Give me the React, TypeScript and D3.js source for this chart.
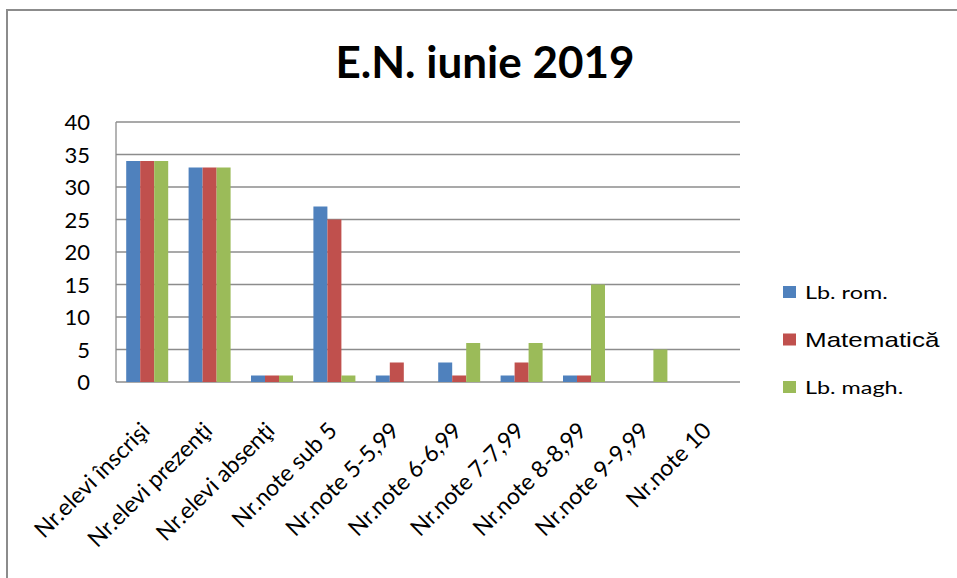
import * as d3 from "d3";
import { useEffect, useRef } from "react";

const categories = [
  "Nr.elevi înscrişi",
  "Nr.elevi prezenţi",
  "Nr.elevi absenţi",
  "Nr.note sub 5",
  "Nr.note 5-5,99",
  "Nr.note 6-6,99",
  "Nr.note 7-7,99",
  "Nr.note 8-8,99",
  "Nr.note 9-9,99",
  "Nr.note 10",
];
const seriesNames = ["Lb. rom.", "Matematică", "Lb. magh."];
const lbRom = [34, 33, 1, 27, 1, 3, 1, 1, 0, 0];
const matematica = [34, 33, 1, 25, 3, 1, 3, 1, 0, 0];
const lbMagh = [34, 33, 1, 1, 0, 6, 6, 15, 5, 0];
const yTicks = [0, 5, 10, 15, 20, 25, 30, 35, 40];
const colors = ["#4f81bd", "#c0504d", "#9bbb59"];

const W = 957;
const H = 578;
const FONT = "Lato, 'Open Sans', sans-serif";

export default function App() {
  const svgRef = useRef<SVGSVGElement | null>(null);

  useEffect(() => {
    if (!svgRef.current) return;
    const svg = d3.select(svgRef.current);
    svg.selectAll("*").remove();

    const values = [lbRom, matematica, lbMagh];
    const plot = { left: 116, right: 740, top: 122, bottom: 382 };

    // outer chart border
    svg
      .append("rect")
      .attr("x", 7)
      .attr("y", 10)
      .attr("width", W + 20)
      .attr("height", H + 20)
      .attr("fill", "white")
      .attr("stroke", "#8c8c8c")
      .attr("stroke-width", 2);

    const x = d3
      .scaleBand<string>()
      .domain(categories)
      .range([plot.left, plot.right]);

    const groupW = x.bandwidth() * 0.673;
    const xs = d3.scaleBand<string>().domain(seriesNames).range([0, groupW]);

    const y = d3.scaleLinear().domain([0, 40]).range([plot.bottom, plot.top]);

    // gridlines
    svg
      .append("g")
      .selectAll("line")
      .data(yTicks)
      .join("line")
      .attr("x1", plot.left)
      .attr("x2", plot.right)
      .attr("y1", (d) => y(d))
      .attr("y2", (d) => y(d))
      .attr("stroke", "#8c8c8c")
      .attr("stroke-width", 1.3);

    // left axis line
    svg
      .append("line")
      .attr("x1", plot.left)
      .attr("x2", plot.left)
      .attr("y1", plot.top)
      .attr("y2", plot.bottom)
      .attr("stroke", "#8c8c8c")
      .attr("stroke-width", 1.3);

    // y tick labels
    svg
      .append("g")
      .selectAll("text")
      .data(yTicks)
      .join("text")
      .attr("x", 90)
      .attr("y", (d) => y(d) + 8)
      .attr("text-anchor", "end")
      .attr("font-family", FONT)
      .attr("font-size", 22)
      .attr("fill", "#000")
      .text((d) => d);

    // bars
    values.forEach((vals, si) => {
      svg
        .append("g")
        .selectAll("rect")
        .data(vals)
        .join("rect")
        .attr(
          "x",
          (_, i) =>
            x(categories[i])! +
            (x.bandwidth() - groupW) / 2 +
            xs(seriesNames[si])!
        )
        .attr("y", (d) => y(d))
        .attr("width", xs.bandwidth())
        .attr("height", (d) => plot.bottom - y(d))
        .attr("fill", colors[si]);
    });

    // category labels, rotated
    svg
      .append("g")
      .selectAll("text")
      .data(categories)
      .join("text")
      .attr("text-anchor", "end")
      .attr("font-family", FONT)
      .attr("font-size", 23)
      .attr("fill", "#000")
      .attr("transform", (d) => {
        const cx = x(d)! + x.bandwidth() / 2 + 4;
        return `translate(${cx},${432}) rotate(-45)`;
      })
      .text((d) => d);

    // title
    svg
      .append("text")
      .attr("x", 485)
      .attr("y", 78)
      .attr("text-anchor", "middle")
      .attr("font-family", FONT)
      .attr("font-weight", "bold")
      .attr("font-size", 44)
      .attr("fill", "#000")
      .text("E.N. iunie 2019");

    // legend
    const legend = svg
      .append("g")
      .selectAll("g")
      .data(seriesNames)
      .join("g")
      .attr("transform", (_, i) => `translate(783, ${286 + i * 47.5})`);
    legend
      .append("rect")
      .attr("width", 13)
      .attr("height", 12)
      .attr("fill", (_, i) => colors[i]);
    legend
      .append("text")
      .attr("transform", "translate(22,13) scale(1.3,1)")
      .attr("font-family", (_, i) =>
        i === 1 ? "'Liberation Sans', Arial, sans-serif" : FONT
      )
      .attr("font-size", (_, i) => (i === 1 ? 20 : 18))
      .attr("fill", "#000")
      .text((d) => d);
  }, []);

  return (
    <svg
      ref={svgRef}
      width={W}
      height={H}
      style={{ position: "absolute", left: 0, top: 0, background: "white" }}
    />
  );
}
